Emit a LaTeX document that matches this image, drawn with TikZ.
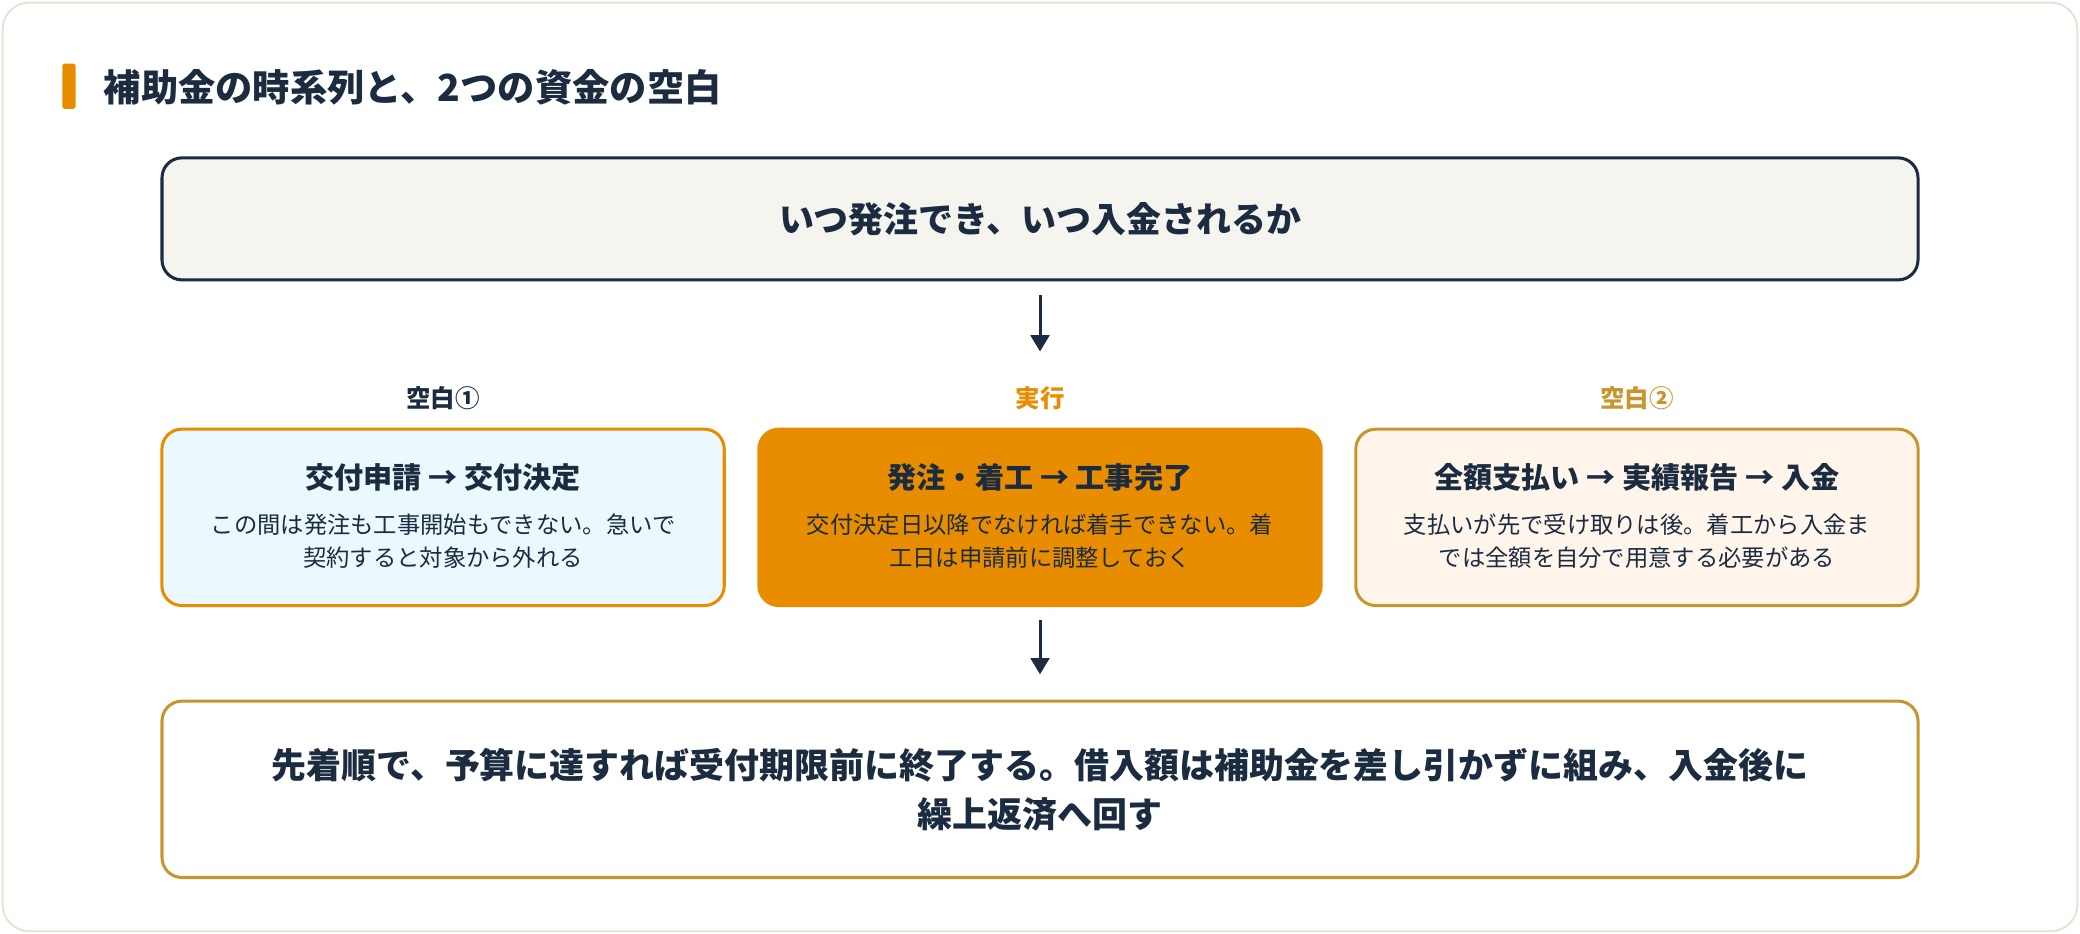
\documentclass[tikz,border=0pt]{standalone}
\usepackage{fontspec}
\setmainfont{Noto Sans CJK JP}
\usetikzlibrary{arrows.meta,positioning}
\definecolor{navy}{HTML}{1B2B40}
\definecolor{orng}{HTML}{E88C00}
\definecolor{gold}{HTML}{C8962E}
\definecolor{frame}{HTML}{E5E2D5}
\definecolor{paper}{HTML}{F5F4EF}
\begin{document}
\begin{tikzpicture}[x=0.02cm,y=-0.02cm,
    card/.style={draw, rounded corners=0.3cm, line width=1.3pt, minimum width=8.48cm, minimum height=2.66cm, align=center, text=navy},
    wide/.style={card, minimum width=26.48cm},
    tag/.style={font=\bfseries\fontsize{10.5}{12}\selectfont},
    head/.style={font=\bfseries\fontsize{12.5}{15}\selectfont, text=navy},
    body/.style={font=\fontsize{10}{14}\selectfont, text=navy, align=center},
    flow/.style={-{Triangle[length=7pt,width=8pt]}, line width=1.3pt, navy}]
    \useasboundingbox (0,0) rectangle (1568,704);
    \draw[frame, fill=white, rounded corners=0.4cm, line width=0.8pt] (2,2) rectangle (1566,702);
    \fill[orng, rounded corners=1pt] (47,48) rectangle (57,82);
    \node[anchor=west, text=navy, font=\bfseries\fontsize{16}{19}\selectfont] (title) at (72,66) {補助金の時系列と、2つの資金の空白};

    \node[wide, draw=navy, fill=paper, minimum height=1.84cm, font=\bfseries\fontsize{15}{18}\selectfont] (q) at (784,165) {いつ発注でき、いつ入金されるか};

    \node[tag, text=navy] (t1) at (334,300) {空白①};
    \node[tag, text=orng] (t2) at (784,300) {実行};
    \node[tag, text=gold] (t3) at (1234,300) {空白②};

    \node[card, draw=orng, fill=cyan!8] (b1) at (334,390) {};
    \node[card, draw=orng, fill=orng] (b2) at (784,390) {};
    \node[card, draw=gold, fill=orange!8] (b3) at (1234,390) {};
    \node[head] (h1) at (334,360) {交付申請 → 交付決定};
    \node[body] (d1) at (334,408) {この間は発注も工事開始もできない。急いで\\契約すると対象から外れる};
    \node[head] (h2) at (784,360) {発注・着工 → 工事完了};
    \node[body] (d2) at (784,408) {交付決定日以降でなければ着手できない。着\\工日は申請前に調整しておく};
    \node[head] (h3) at (1234,360) {全額支払い → 実績報告 → 入金};
    \node[body] (d3) at (1234,408) {支払いが先で受け取りは後。着工から入金ま\\では全額を自分で用意する必要がある};

    \node[wide, draw=gold, fill=white, font=\bfseries\fontsize{15}{21}\selectfont] (res) at (784,595) {先着順で、予算に達すれば受付期限前に終了する。借入額は補助金を差し引かずに組み、入金後に\\繰上返済へ回す};

    \coordinate (a1) at (784,222);
    \coordinate (a2) at (784,265);
    \draw[flow] (a1) -- (a2);
    \draw[flow] ([yshift=-0.2cm]b2.south) -- ([yshift=0.38cm]res.north);
\end{tikzpicture}
\end{document}
